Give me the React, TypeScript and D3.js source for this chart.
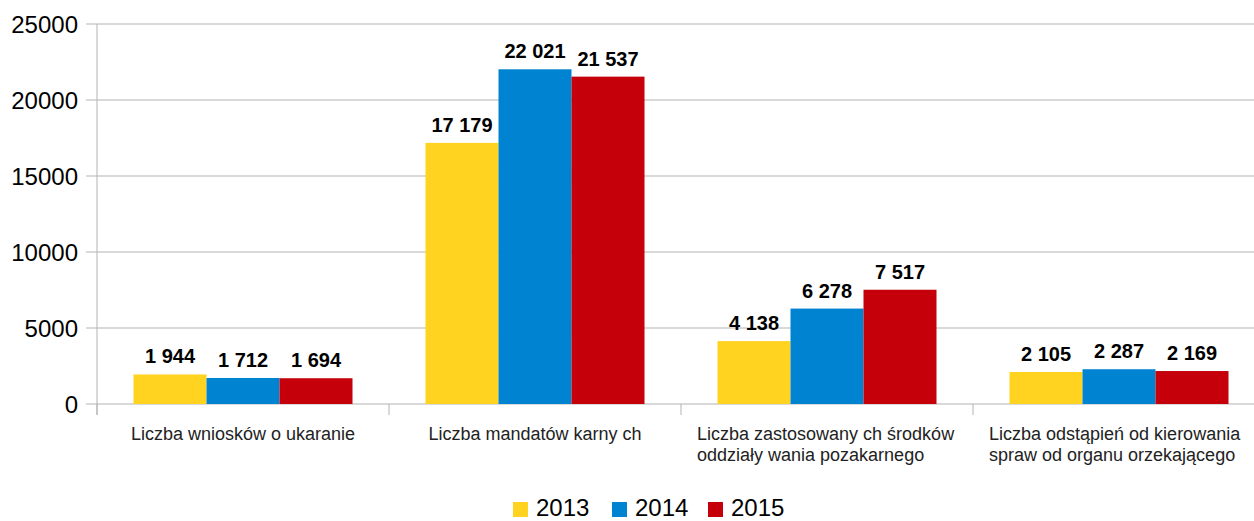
import React from "react";
import * as d3 from "d3";

const categories: string[][] = [
  ["Liczba wniosków o ukaranie"],
  ["Liczba mandatów karny ch"],
  ["Liczba zastosowany ch środków", "oddziały wania pozakarnego"],
  ["Liczba odstąpień od kierowania", "spraw od organu orzekającego"],
];
const years = ["2013", "2014", "2015"];
const colors = ["#FFD320", "#0084D1", "#C5000B"];
const values2013 = [1944, 17179, 4138, 2105];
const values2014 = [1712, 22021, 6278, 2287];
const values2015 = [1694, 21537, 7517, 2169];
const series = [values2013, values2014, values2015];
const yTicks = [0, 5000, 10000, 15000, 20000, 25000];

const W = 1254;
const H = 521;
const left = 97;
const right = 1265;
const top = 24;
const bottom = 404;

const fmt = (v: number) => d3.format(",")(v).replace(/,/g, " ");

export default function App() {
  const x = d3.scaleBand<number>().domain(d3.range(categories.length)).range([left, right]).padding(0);
  const y = d3.scaleLinear().domain([0, 25000]).range([bottom, top]);
  const bw = x.bandwidth();
  const inner = d3.scaleBand<number>().domain([0, 1, 2]).range([bw * 0.125, bw * 0.875]).padding(0);

  return (
    <svg width={W} height={H} style={{ position: "absolute", left: 0, top: 0 }} fontFamily="'Liberation Sans', Arial, sans-serif">
      {yTicks.map((t) => (
        <g key={t}>
          <line x1={86} x2={right} y1={y(t)} y2={y(t)} stroke="#b3b3b3" strokeWidth={1} />
          <text x={78} y={y(t)} dy="0.36em" textAnchor="end" fontSize={24} fill="#000">
            {t}
          </text>
        </g>
      ))}
      <line x1={left} x2={left} y1={top} y2={bottom + 11} stroke="#b3b3b3" strokeWidth={1} />
      {d3.range(categories.length + 1).map((i) => {
        const xx = i < categories.length ? x(i)! : right;
        return <line key={i} x1={xx} x2={xx} y1={bottom} y2={bottom + 11} stroke="#b3b3b3" strokeWidth={1} />;
      })}
      {series.map((vals, s) =>
        vals.map((v, i) => {
          const bx = x(i)! + inner(s)!;
          return (
            <g key={`${s}-${i}`}>
              <rect x={bx} y={y(v)} width={inner.bandwidth()} height={bottom - y(v)} fill={colors[s]} />
              <text x={bx + inner.bandwidth() / 2} y={y(v) - 11} textAnchor="middle" fontSize={20} fontWeight="bold" fill="#000">
                {fmt(v)}
              </text>
            </g>
          );
        })
      )}
      {categories.map((lines, i) => {
        const cx = x(i)! + bw / 2;
        if (lines.length === 1) {
          return (
            <text key={i} x={cx} y={440} textAnchor="middle" fontSize={18} fill="#222">
              {lines[0]}
            </text>
          );
        }
        return (
          <g key={i}>
            {lines.map((l, j) => (
              <text key={j} x={x(i)! + 16} y={440 + j * 21} fontSize={18} fill="#222">
                {l}
              </text>
            ))}
          </g>
        );
      })}
      {years.map((yr, k) => {
        const lx = [513, 612, 708][k];
        return (
          <g key={yr}>
            <rect x={lx} y={502} width={15} height={15} fill={colors[k]} />
            <text x={lx + 23} y={516} fontSize={24} fill="#000">
              {yr}
            </text>
          </g>
        );
      })}
    </svg>
  );
}
